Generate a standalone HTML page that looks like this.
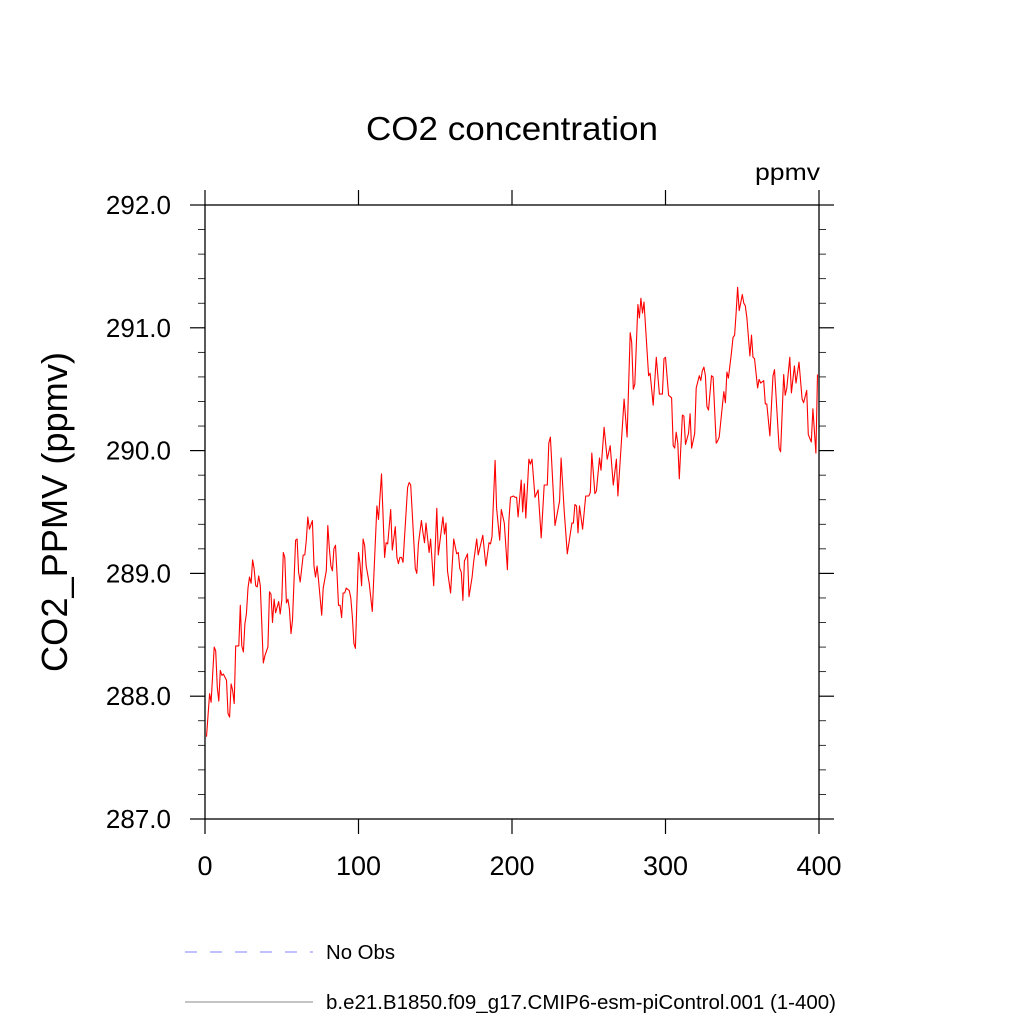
<!DOCTYPE html>
<html><head><meta charset="utf-8"><style>
html,body{margin:0;padding:0;background:#fff;}
svg{display:block;font-family:"Liberation Sans",sans-serif;}
</style></head><body>
<svg id="chart" width="1024" height="1024" viewBox="0 0 1024 1024">
<rect width="1024" height="1024" fill="#fff"/>
<text x="512" y="140" font-size="33" text-anchor="middle" textLength="292" lengthAdjust="spacingAndGlyphs">CO2 concentration</text>
<text x="820" y="180" font-size="23" text-anchor="end" textLength="65" lengthAdjust="spacingAndGlyphs">ppmv</text>
<text transform="translate(67,512) rotate(-90)" font-size="36" text-anchor="middle" textLength="320" lengthAdjust="spacingAndGlyphs">CO2_PPMV  (ppmv)</text>
<g id="axes"></g>
<g id="series"></g>
<g>
<line x1="185" y1="952" x2="313" y2="952" stroke="#8080ff" stroke-width="1" stroke-dasharray="12,13"/>
<text x="326" y="959" font-size="20" textLength="69" lengthAdjust="spacingAndGlyphs">No Obs</text>
<line x1="185" y1="1002" x2="313" y2="1002" stroke="#888" stroke-width="1"/>
<text x="326" y="1009" font-size="20" textLength="510" lengthAdjust="spacingAndGlyphs">b.e21.B1850.f09_g17.CMIP6-esm-piControl.001 (1-400)</text>
</g>
</svg>
<script>
const years=[1,3,4,6,7,8,9,10,11,12,14,15,16,17,18,19,20,22,23,24,25,26,27,28,29,30,31,32,33,34,35,36,38,39,41,42,43,44,45,46,48,49,50,51,52,53,54,55,56,57,59,60,61,62,64,65,66,67,68,70,71,72,73,74,76,77,79,80,81,82,83,84,85,86,87,88,89,90,91,92,94,95,96,97,98,100,101,102,103,104,105,107,109,112,113,115,117,118,119,121,122,124,125,126,127,128,129,132,133,134,137,138,139,141,142,143,144,146,147,149,151,152,155,156,157,158,160,162,164,165,166,167,168,169,171,172,174,175,177,178,181,183,185,186,187,189,190,192,193,195,197,198,199,201,202,203,204,206,207,208,209,211,212,213,215,217,219,221,223,224,225,228,231,232,234,236,239,240,241,242,243,244,246,248,250,251,252,254,255,257,258,260,262,264,266,268,269,271,273,275,277,278,279,280,282,283,284,285,286,289,290,292,294,296,298,299,300,302,304,305,306,307,308,309,311,312,313,315,316,317,319,320,322,323,324,325,326,327,328,330,331,333,334,335,338,339,340,341,343,344,345,346,347,348,350,351,352,353,355,356,357,358,360,361,362,364,365,366,368,370,371,374,375,377,378,379,381,382,384,385,387,389,390,392,393,395,396,398,399];
const co2=[287.67,288.02,287.95,288.40,288.37,288.07,287.96,288.21,288.17,288.18,288.13,287.86,287.83,288.10,288.05,287.94,288.41,288.41,288.74,288.41,288.36,288.59,288.67,288.88,288.97,288.92,289.11,289.04,288.90,288.89,288.98,288.90,288.27,288.33,288.40,288.85,288.83,288.60,288.79,288.68,288.77,288.67,288.78,289.17,289.13,288.76,288.79,288.71,288.51,288.62,289.27,289.28,289.01,288.93,289.15,289.15,289.27,289.46,289.36,289.43,289.06,288.97,289.06,288.94,288.66,288.88,289.02,289.39,289.21,289.06,289.02,289.20,289.23,289.00,288.74,288.74,288.64,288.84,288.84,288.88,288.86,288.80,288.64,288.43,288.39,289.17,289.08,288.90,289.28,289.23,289.06,288.92,288.69,289.55,289.44,289.81,289.13,289.25,289.24,289.52,289.19,289.38,289.13,289.08,289.13,289.13,289.09,289.70,289.74,289.72,289.04,289.00,289.24,289.43,289.33,289.25,289.41,289.17,289.28,288.90,289.53,289.15,289.46,289.32,289.41,289.02,288.84,289.28,289.16,289.17,289.04,289.01,288.78,289.10,289.16,288.81,288.97,289.09,289.28,289.15,289.31,289.06,289.25,289.24,289.30,289.92,289.53,289.27,289.52,289.41,289.03,289.43,289.62,289.63,289.62,289.62,289.46,289.76,289.50,289.73,289.45,289.93,289.89,289.93,289.62,289.68,289.29,289.72,289.72,290.06,290.11,289.39,289.59,289.94,289.51,289.16,289.41,289.41,289.56,289.55,289.33,289.55,289.36,289.63,289.63,289.66,289.98,289.65,289.67,289.94,289.84,290.19,289.93,290.04,289.72,289.93,289.63,290.02,290.42,290.11,290.96,290.88,290.50,290.54,291.19,291.08,291.24,291.12,291.21,290.61,290.63,290.37,290.76,290.46,290.46,290.75,290.76,290.45,290.43,290.04,290.02,290.15,290.06,289.77,290.29,290.28,290.05,290.14,290.30,290.02,290.14,290.51,290.61,290.57,290.65,290.68,290.61,290.36,290.33,290.61,290.60,290.06,290.08,290.11,290.48,290.39,290.64,290.59,290.80,290.92,290.94,291.12,291.33,291.14,291.27,291.20,291.18,291.08,290.77,290.94,290.76,290.75,290.51,290.58,290.55,290.57,290.38,290.38,290.12,290.61,290.66,290.02,289.99,290.62,290.45,290.51,290.76,290.47,290.69,290.55,290.72,290.42,290.39,290.49,290.13,290.07,290.34,289.98,290.62];
const xTicks=[0,100,200,300,400];
const xTickLabels=["0","100","200","300","400"];
const yTicks=[287,288,289,290,291,292];
const yTickLabels=["287.0","288.0","289.0","290.0","291.0","292.0"];
const NS="http://www.w3.org/2000/svg";
const L=205,R=819,T=205,B=819,x0=0,x1=400,y0=287,y1=292;
function sx(v){return L+(v-x0)/(x1-x0)*(R-L);}
function sy(v){return B-(v-y0)/(y1-y0)*(B-T);}
function mk(tag,attrs,parent){const e=document.createElementNS(NS,tag);for(const k in attrs)e.setAttribute(k,attrs[k]);parent.appendChild(e);return e;}
const ax=document.getElementById('axes');
const frame=mk('rect',{x:L,y:T,width:R-L,height:B-T,fill:'none',stroke:'#000','stroke-width':1.3},ax);


xTicks.forEach((v,i)=>{
  const x=sx(v);
  const t1=mk('line',{x1:x,y1:B,x2:x,y2:B+15,stroke:'#000','stroke-width':1.2},ax);
  
  
  const t2=mk('line',{x1:x,y1:T,x2:x,y2:T-15,stroke:'#000','stroke-width':1.2},ax);
  
  
  const lb=mk('text',{x:x,y:875,'font-size':27,'text-anchor':'middle'},ax);
  lb.textContent=xTickLabels[i];
  
  
});
for(let k=0;k<=25;k++){
  const v=y0+k*0.2;const y=sy(v);const major=(k%5===0);const len=major?15:7;
  const a=mk('line',{x1:L,y1:y,x2:L-len,y2:y,stroke:'#000','stroke-width':major?1.2:0.8},ax);
  
  
  const b=mk('line',{x1:R,y1:y,x2:R+len,y2:y,stroke:'#000','stroke-width':major?1.2:0.8},ax);
  
  
}
yTicks.forEach((v,i)=>{
  const lb=mk('text',{x:171,y:sy(v)+9,'font-size':26,'text-anchor':'end'},ax);
  lb.textContent=yTickLabels[i];
  
  
});
const sg=document.getElementById('series');
const pts=years.map((yr,i)=>sx(yr).toFixed(1)+','+sy(co2[i]).toFixed(1)).join(' ');
const line=mk('polyline',{points:pts,fill:'none',stroke:'#ff0000','stroke-width':1.1,'stroke-linejoin':'round'},sg);


</script>
</body></html>
